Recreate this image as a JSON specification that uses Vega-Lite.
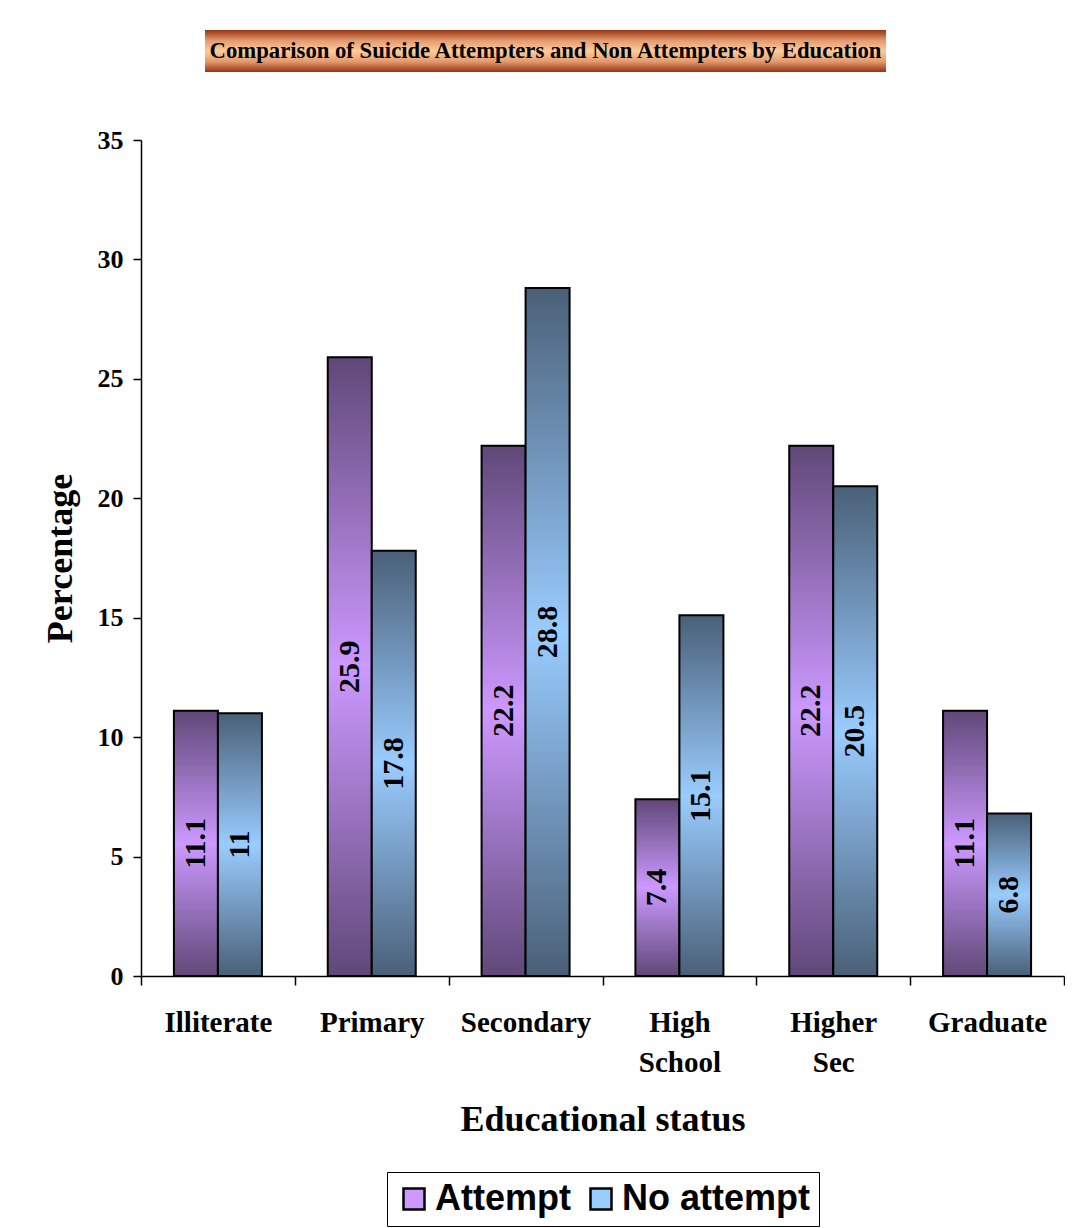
{
  "$schema": "https://vega.github.io/schema/vega-lite/v6.json",
  "padding": {"left": 42, "top": 30, "right": 0, "bottom": 0},
  "background": "white",
  "spacing": 55,
  "config": {
    "view": {"stroke": null},
    "font": "Liberation Serif"
  },
  "vconcat": [
    {
      "spacing": 14,
      "hconcat": [
        {
          "width": 50,
          "height": 42,
          "data": {"values": [{"t": ""}]},
          "mark": {"type": "text"},
          "encoding": {"text": {"field": "t", "type": "nominal"}}
        },
        {
          "width": 681,
          "height": 42,
          "view": {
            "stroke": null,
            "fill": {"gradient": "linear", "x1": 0, "y1": 0, "x2": 0, "y2": 1,
              "stops": [{"offset": 0, "color": "#983410"}, {"offset": 0.25, "color": "#e39a70"}, {"offset": 0.5, "color": "#ffcc99"}, {"offset": 0.75, "color": "#e39a70"}, {"offset": 1, "color": "#983410"}]}
          },
          "data": {"values": [{"t": "Comparison of Suicide Attempters and Non Attempters by Education"}]},
          "mark": {"type": "text", "font": "Liberation Serif", "fontWeight": "bold", "fontSize": 22.7, "color": "black", "baseline": "middle", "align": "center"},
          "encoding": {"text": {"field": "t", "type": "nominal"}}
        }
      ]
    },
    {
      "width": 923,
      "height": 836,
      "data": {"values": [
        {"edu": "Illiterate", "group": "Attempt", "value": 11.1},
        {"edu": "Illiterate", "group": "No attempt", "value": 11},
        {"edu": "Primary", "group": "Attempt", "value": 25.9},
        {"edu": "Primary", "group": "No attempt", "value": 17.8},
        {"edu": "Secondary", "group": "Attempt", "value": 22.2},
        {"edu": "Secondary", "group": "No attempt", "value": 28.8},
        {"edu": "High School", "group": "Attempt", "value": 7.4},
        {"edu": "High School", "group": "No attempt", "value": 15.1},
        {"edu": "Higher Sec", "group": "Attempt", "value": 22.2},
        {"edu": "Higher Sec", "group": "No attempt", "value": 20.5},
        {"edu": "Graduate", "group": "Attempt", "value": 11.1},
        {"edu": "Graduate", "group": "No attempt", "value": 6.8}
      ]},
      "encoding": {
        "x": {
          "field": "edu", "type": "nominal", "sort": null,
          "scale": {"paddingInner": 0, "paddingOuter": 0},
          "axis": {
            "title": "Educational status",
            "titleFont": "Liberation Serif", "titleFontSize": 36, "titleFontWeight": "bold", "titleColor": "black", "titlePadding": 25,
            "labelFont": "Liberation Serif", "labelFontSize": 29, "labelFontWeight": "bold", "labelColor": "black",
            "labelAngle": 0, "labelPadding": 23, "labelLineHeight": 40,
            "labelExpr": "datum.label == 'High School' ? ['High', 'School'] : (datum.label == 'Higher Sec' ? ['Higher', 'Sec'] : datum.label)",
            "tickBand": "extent", "tickSize": 9, "tickColor": "black", "tickWidth": 1.5,
            "domainColor": "black", "domainWidth": 1.5, "grid": false
          }
        },
        "xOffset": {
          "field": "group", "type": "nominal", "sort": ["Attempt", "No attempt"],
          "scale": {"paddingInner": 0, "paddingOuter": 0.748}
        },
        "y": {
          "field": "value", "type": "quantitative",
          "scale": {"domain": [0, 35], "nice": false},
          "axis": {
            "title": "Percentage",
            "titleFont": "Liberation Serif", "titleFontSize": 36, "titleFontWeight": "bold", "titleColor": "black", "titlePadding": 18,
            "labelFont": "Liberation Serif", "labelFontSize": 26, "labelFontWeight": "bold", "labelColor": "black", "labelPadding": 10,
            "values": [0, 5, 10, 15, 20, 25, 30, 35],
            "tickSize": 8, "tickColor": "black", "tickWidth": 1.5,
            "domainColor": "black", "domainWidth": 1.5, "grid": false
          }
        }
      },
      "layer": [
        {
          "mark": {"type": "bar"},
          "encoding": {
            "color": {
              "field": "group", "type": "nominal",
              "scale": {"domain": ["Attempt", "No attempt"], "range": ["#cc99ff", "#99ccff"]},
              "legend": {
                "title": null, "orient": "none", "legendX": 246, "legendY": 1142, "direction": "horizontal",
                "labelFont": "Liberation Sans", "labelFontSize": 36, "labelFontWeight": "bold", "labelColor": "black", "labelLimit": 500,
                "symbolType": "square", "symbolSize": 441, "symbolStrokeColor": "black", "symbolStrokeWidth": 2.5,
                "labelOffset": 3, "columnPadding": 12,
                "strokeColor": "black", "padding": 9
              }
            }
          }
        },
        {
          "mark": {"type": "bar", "stroke": "black", "strokeWidth": 2},
          "encoding": {
            "fill": {
              "condition": {
                "test": "datum.group === 'Attempt'",
                "value": {"gradient": "linear", "x1": 0, "y1": 0, "x2": 0, "y2": 1,
                  "stops": [{"offset": 0, "color": "#604878"}, {"offset": 0.5, "color": "#cc99ff"}, {"offset": 1, "color": "#604878"}]}
              },
              "value": {"gradient": "linear", "x1": 0, "y1": 0, "x2": 0, "y2": 1,
                "stops": [{"offset": 0, "color": "#4a6078"}, {"offset": 0.5, "color": "#99ccff"}, {"offset": 1, "color": "#4a6078"}]}
            }
          }
        },
        {
          "transform": [{"calculate": "datum.value / 2", "as": "mid"}],
          "mark": {"type": "text", "angle": 270, "font": "Liberation Serif", "fontWeight": "bold", "fontSize": 30, "color": "black", "align": "center", "baseline": "middle"},
          "encoding": {
            "y": {"field": "mid", "type": "quantitative"},
            "text": {"field": "value", "type": "quantitative"}
          }
        }
      ]
    }
  ]
}
